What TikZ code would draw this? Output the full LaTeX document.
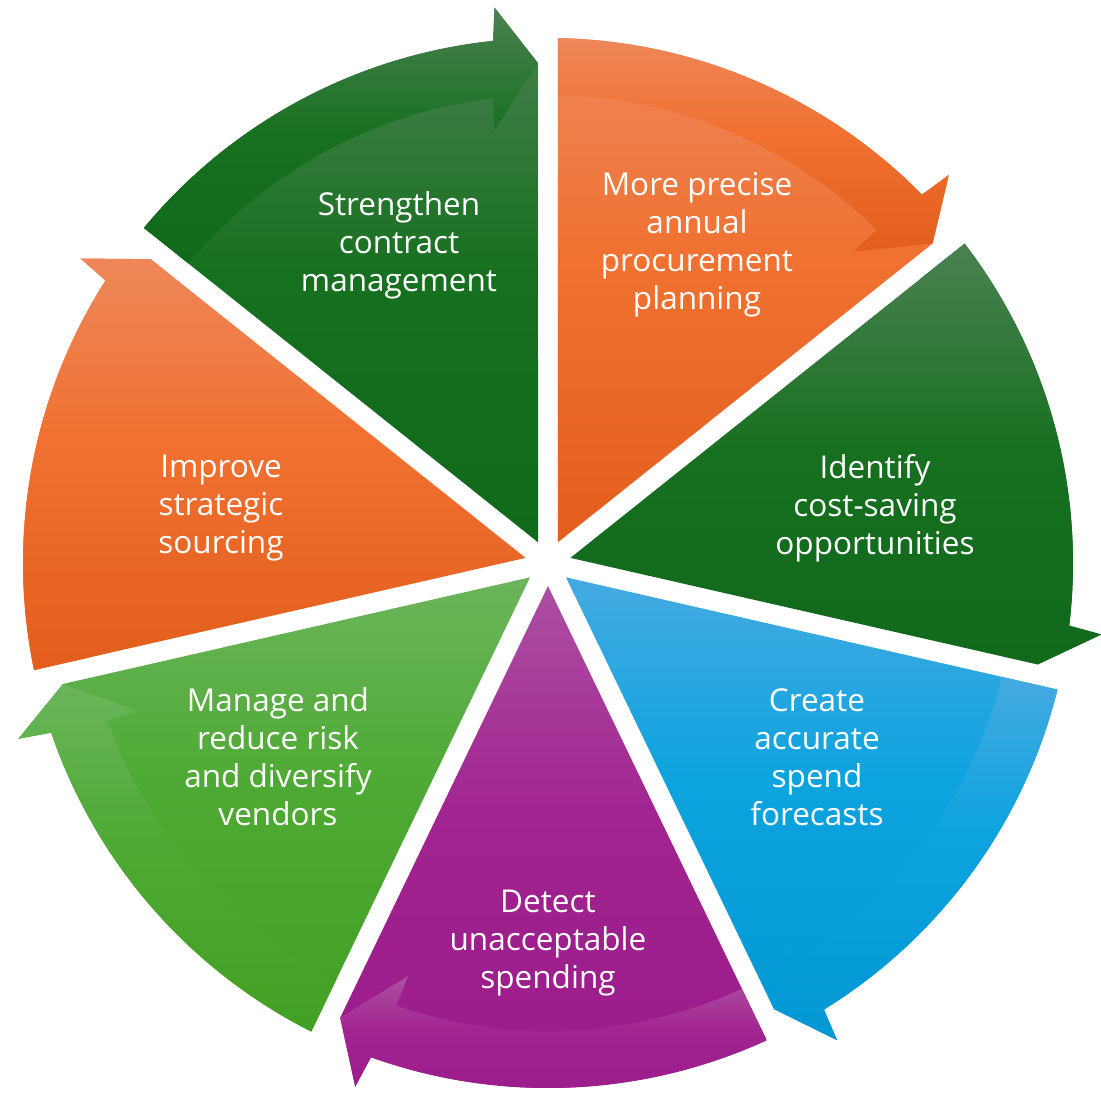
\documentclass[tikz,border=0pt]{standalone}
\usepackage{fontspec}
\newfontfamily\segfont{Open Sans}
\definecolor{orangetop}{HTML}{EE8759}
\definecolor{orangemid}{HTML}{F07131}
\definecolor{orangebot}{HTML}{E35E1C}
\definecolor{greentop}{HTML}{4B8152}
\definecolor{greenmid}{HTML}{16701F}
\definecolor{greenbot}{HTML}{11691C}
\definecolor{bluetop}{HTML}{45AAE1}
\definecolor{bluemid}{HTML}{0CA3DF}
\definecolor{bluebot}{HTML}{0398D4}
\definecolor{purpletop}{HTML}{AC4FA2}
\definecolor{purplemid}{HTML}{A12490}
\definecolor{purplebot}{HTML}{9A1A8A}
\definecolor{limetop}{HTML}{6BB55C}
\definecolor{limemid}{HTML}{4FAA35}
\definecolor{limebot}{HTML}{42A023}
\pgfdeclareverticalshading{orangeshade}{100bp}{color(0bp)=(orangebot); color(25bp)=(orangebot);
  color(53bp)=(orangemid); color(75bp)=(orangetop); color(100bp)=(orangetop)}
\pgfdeclareverticalshading{greenshade}{100bp}{color(0bp)=(greenbot); color(25bp)=(greenbot);
  color(50bp)=(greenmid); color(75bp)=(greentop); color(100bp)=(greentop)}
\pgfdeclareverticalshading{blueshade}{100bp}{color(0bp)=(bluebot); color(25bp)=(bluebot);
  color(53bp)=(bluemid); color(75bp)=(bluetop); color(100bp)=(bluetop)}
\pgfdeclareverticalshading{purpleshade}{100bp}{color(0bp)=(purplebot); color(25bp)=(purplebot);
  color(53bp)=(purplemid); color(75bp)=(purpletop); color(100bp)=(purpletop)}
\pgfdeclareverticalshading{limeshade}{100bp}{color(0bp)=(limebot); color(25bp)=(limebot);
  color(53bp)=(limemid); color(75bp)=(limetop); color(100bp)=(limetop)}
\begin{document}
\begin{tikzpicture}[x=1pt,y=1pt,
    steptext/.style={text=white, align=center, font=\segfont\fontsize{31.5}{38}\selectfont},
    orangefill/.style={shading=orangeshade},
    greenfill/.style={shading=greenshade},
    bluefill/.style={shading=blueshade},
    purplefill/.style={shading=purpleshade},
    limefill/.style={shading=limeshade}]
  \useasboundingbox (-548,-532) rectangle (553,563);
  % segment 1
  \shade[orangefill] (64.29:23) -- (88.91:525) arc[start angle=88.91, end angle=44.57, radius=525pt]
    -- (44.07:558) -- (39.72:500) -- cycle;
  \shade[orangefill] (88.78:468) -- (88.91:525) arc[start angle=88.91, end angle=44.57, radius=525pt]
    -- (44.07:558) -- (39.72:500) -- (45.57:436) -- (45.37:468)
    arc[start angle=45.37, end angle=88.78, radius=468pt] -- cycle;
  % segment 2
  \shade[greenfill] (12.86:23) -- (37.48:525) arc[start angle=37.48, end angle=-6.86, radius=525pt]
    -- (-7.36:558) -- (-11.71:500) -- cycle;
  \shade[greenfill] (37.35:468) -- (37.48:525) arc[start angle=37.48, end angle=-6.86, radius=525pt]
    -- (-7.36:558) -- (-11.71:500) -- (-5.86:436) -- (-6.06:468)
    arc[start angle=-6.06, end angle=37.35, radius=468pt] -- cycle;
  % segment 3
  \shade[bluefill] (-38.57:23) -- (-13.95:525) arc[start angle=-13.95, end angle=-58.29, radius=525pt]
    -- (-58.79:558) -- (-63.14:500) -- cycle;
  \shade[bluefill] (-14.08:468) -- (-13.95:525) arc[start angle=-13.95, end angle=-58.29, radius=525pt]
    -- (-58.79:558) -- (-63.14:500) -- (-57.29:436) -- (-57.49:468)
    arc[start angle=-57.49, end angle=-14.08, radius=468pt] -- cycle;
  % segment 4
  \shade[purplefill] (-90:23) -- (-65.38:525) arc[start angle=-65.38, end angle=-109.71, radius=525pt]
    -- (-110.21:558) -- (-114.56:500) -- cycle;
  \shade[purplefill] (-65.51:468) -- (-65.38:525) arc[start angle=-65.38, end angle=-109.71, radius=525pt]
    -- (-110.21:558) -- (-114.56:500) -- (-108.71:436) -- (-108.91:468)
    arc[start angle=-108.91, end angle=-65.51, radius=468pt] -- cycle;
  % segment 5
  \shade[limefill] (-141.43:23) -- (-116.80:525) arc[start angle=-116.80, end angle=-161.14, radius=525pt]
    -- (-161.64:558) -- (-165.99:500) -- cycle;
  \shade[limefill] (-116.93:468) -- (-116.80:525) arc[start angle=-116.80, end angle=-161.14, radius=525pt]
    -- (-161.64:558) -- (-165.99:500) -- (-160.14:436) -- (-160.34:468)
    arc[start angle=-160.34, end angle=-116.93, radius=468pt] -- cycle;
  % segment 6
  \shade[orangefill] (-192.86:23) -- (-168.23:525) arc[start angle=-168.23, end angle=-212.57, radius=525pt]
    -- (-213.07:558) -- (-217.42:500) -- cycle;
  \shade[orangefill] (-168.36:468) -- (-168.23:525) arc[start angle=-168.23, end angle=-212.57, radius=525pt]
    -- (-213.07:558) -- (-217.42:500) -- (-211.57:436) -- (-211.77:468)
    arc[start angle=-211.77, end angle=-168.36, radius=468pt] -- cycle;
  % segment 7
  \shade[greenfill] (-244.29:23) -- (-219.66:525) arc[start angle=-219.66, end angle=-264.00, radius=525pt]
    -- (-264.50:558) -- (-268.85:500) -- cycle;
  \shade[greenfill] (-219.79:468) -- (-219.66:525) arc[start angle=-219.66, end angle=-264.00, radius=525pt]
    -- (-264.50:558) -- (-268.85:500) -- (-263.00:436) -- (-263.20:468)
    arc[start angle=-263.20, end angle=-219.79, radius=468pt] -- cycle;
  % texts
  \node[steptext] (1) at (149,318) {More precise\\annual\\procurement\\planning};
  \node[steptext] (2) at (327,55) {Identify\\cost-saving\\opportunities};
  \node[steptext] (3) at (269,-194) {Create\\accurate\\spend\\forecasts};
  \node[steptext] (4) at (0,-380) {Detect\\unacceptable\\spending};
  \node[steptext] (5) at (-270,-194) {Manage and\\reduce risk\\and diversify\\vendors};
  \node[steptext] (6) at (-327,55) {Improve\\strategic\\sourcing};
  \node[steptext] (7) at (-149,318) {Strengthen\\contract\\management};
\end{tikzpicture}
\end{document}
